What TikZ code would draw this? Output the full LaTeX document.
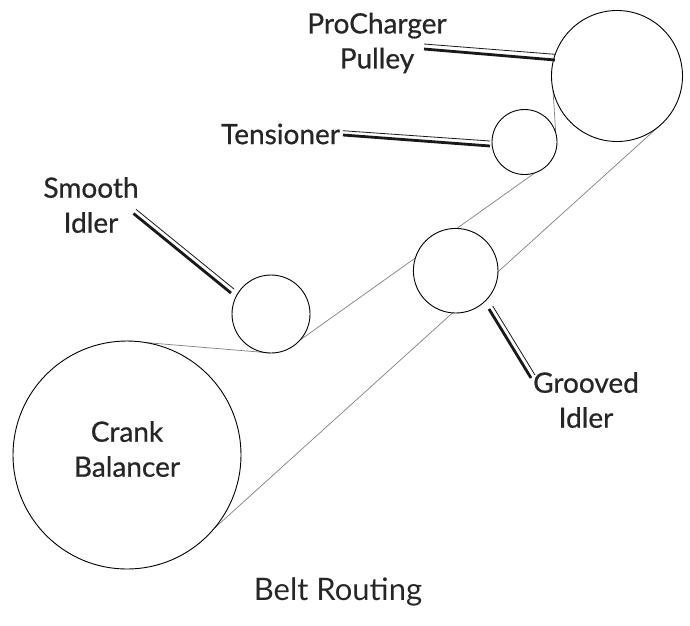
\documentclass[tikz,border=0pt]{standalone}
\usepackage{fontspec}
\setmainfont{Lato}
\newfontfamily\lblfont[FakeBold=0.6]{Lato}
\pgfdeclarelayer{beltlayer}
\pgfsetlayers{beltlayer,main}
\begin{document}
\begin{tikzpicture}[x=1pt,y=-1pt,
  pulley/.style={circle,draw=black,line width=0.9pt,inner sep=0pt,outer sep=0pt,fill=white},
  belt/.style={draw=black!50,line width=0.7pt},
  thinlead/.style={draw=black!90,line width=0.8pt},
  thicklead/.style={draw=black!90,line width=2.8pt},
  lbl/.style={font=\lblfont\fontsize{28}{35}\selectfont,text=black!85,align=center,inner sep=0pt,outer sep=0pt},
  ttl/.style={font=\fontsize{31}{40}\selectfont,text=black!85,inner sep=0pt,outer sep=0pt}]
\useasboundingbox (0,0) rectangle (690,625);
\node[pulley,minimum size=131pt] (pro) at (617,76) {};
\node[pulley,minimum size=65pt] (ten) at (524.5,142) {};
\node[pulley,minimum size=78pt] (smo) at (271,314) {};
\node[pulley,minimum size=84.6pt] (gro) at (455.7,270.7) {};
\node[pulley,minimum size=228pt] (cra) at (127,455) {};
\node[lbl] (lpro) at (377,43) {ProCharger\\Pulley};
\node[lbl,anchor=east] (lten) at (340,134) {Tensioner};
\node[lbl] (lsmo) at (91,205) {Smooth\\Idler};
\node[lbl] (lgro) at (586,400) {Grooved\\Idler};
\node[lbl] (lcra) at (127,449) {Crank\\Balancer};
\node[ttl] (title) at (338,592) {Belt Routing};
\begin{pgfonlayer}{beltlayer}
\draw[belt] (cra.90) -- (smo.270);
\draw[belt] (smo.-42) -- (ten.-71);
\draw[belt] (pro.192) -- (ten.16);
\draw[belt] (cra.-40) -- (pro.-51);
\end{pgfonlayer}
\coordinate (a1) at (424,44); \coordinate (a2) at (555,54.3);
\coordinate (b1) at (424,49); \coordinate (b2) at (555,60);
\coordinate (c1) at (342.7,130.7); \coordinate (c2) at (490,141);
\coordinate (d1) at (343,135); \coordinate (d2) at (490,146);
\coordinate (e1) at (136,209.3); \coordinate (e2) at (234,289);
\coordinate (f1) at (133.5,213.5); \coordinate (f2) at (231,293);
\coordinate (g1) at (492.7,306); \coordinate (g2) at (535,375);
\coordinate (h1) at (489,309); \coordinate (h2) at (531,378);
\draw[thinlead] (a1) -- (a2); \draw[thicklead] (b1) -- (b2);
\draw[thinlead] (c1) -- (c2); \draw[thicklead] (d1) -- (d2);
\draw[thinlead] (e1) -- (e2); \draw[thicklead] (f1) -- (f2);
\draw[thinlead] (g1) -- (g2); \draw[thicklead] (h1) -- (h2);
\end{tikzpicture}
\end{document}
